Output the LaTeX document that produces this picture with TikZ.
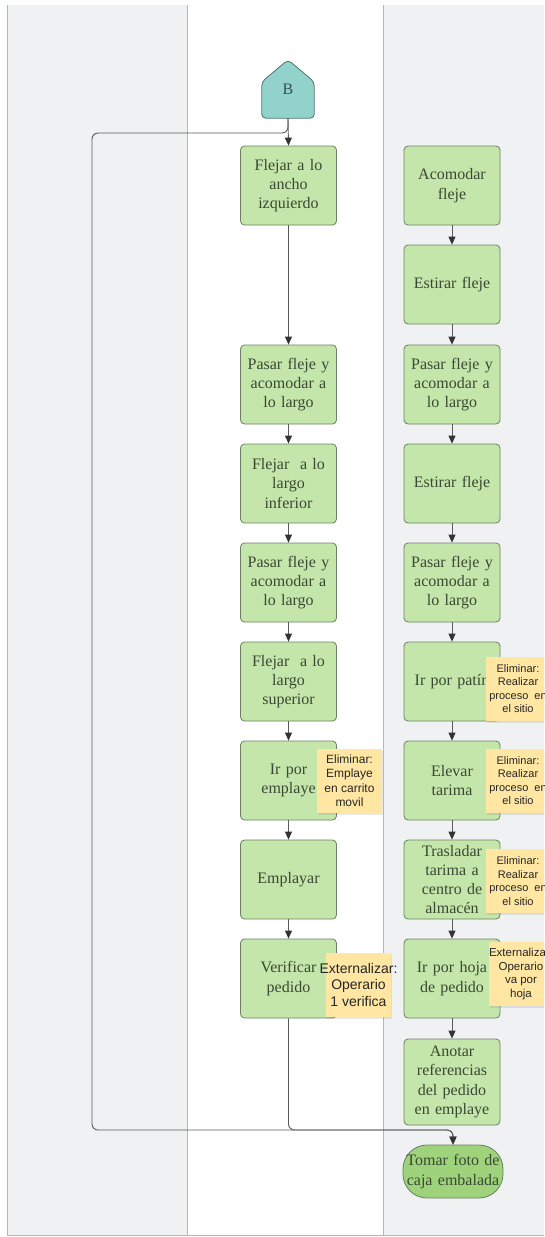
\documentclass[tikz,border=0pt]{standalone}
\usepackage{fontspec}
\setmainfont{Liberation Serif}
\newfontfamily\notafont{Liberation Sans}
\usetikzlibrary{arrows.meta, shadows}

\definecolor{carril}{RGB}{240,241,243}
\definecolor{bordecarril}{RGB}{180,182,186}
\definecolor{verdecaja}{RGB}{197,230,170}
\definecolor{bordecaja}{RGB}{108,128,100}
\definecolor{verdefin}{RGB}{158,211,124}
\definecolor{turquesa}{RGB}{145,211,202}
\definecolor{bordeturq}{RGB}{76,116,110}
\definecolor{amarillo}{RGB}{255,231,163}
\definecolor{textocaja}{RGB}{58,72,52}
\definecolor{linea}{RGB}{90,90,90}

\begin{document}
\begin{tikzpicture}[x=1pt, y=-1pt,
    caja/.style={draw=bordecaja, fill=verdecaja, rounded corners=4pt, line width=0.8pt,
        minimum width=96pt, minimum height=79pt, text width=94pt, inner sep=0pt,
        align=center, text=textocaja, font=\fontsize{16}{19.3}\selectfont},
    nota/.style={fill=amarillo, minimum width=65pt, minimum height=64pt, inner sep=0pt,
        align=center, text=black!85,
        drop shadow={opacity=0.18, shadow xshift=1pt, shadow yshift=-2pt}},
    flecha/.style={draw=linea, line width=0.9pt,
        -{Triangle[length=8pt, width=7pt, color=black!80]}}]

    % Marc i carrils
    \path[use as bounding box, clip] (0,0) rectangle (544,1237);
    \fill[carril] (7,5) rectangle (187,1235);
    \fill[carril] (383,5) rectangle (544,1235);
    \draw[bordecarril, line width=1pt] (7,5) -- (7,1235) -- (544,1235);
    \draw[bordecarril, line width=1pt] (187,5) -- (187,1235);
    \draw[bordecarril, line width=1pt] (383,5) -- (383,1235);

    % Conector de pagina B
    \node[minimum width=52pt, minimum height=58pt, inner sep=0pt] (B) at (288,89) {};
    \draw[fill=turquesa, draw=bordeturq, line width=0.8pt, rounded corners=4pt]
        (B.south west) -- (B.south east) -- ([yshift=-22pt]B.north east)
        -- (B.north) -- ([yshift=-22pt]B.north west) -- cycle;
    \node[text=bordeturq!70!black, font=\fontsize{16}{19}\selectfont] (Btxt) at (B.center) {B};

    % Columna central
    \foreach \n/\y/\t in {
        m1/185.5/{Flejar a lo\\ancho\\izquierdo},
        m2/384.5/{Pasar fleje y\\acomodar a\\lo largo},
        m3/483.5/{Flejar~ a lo\\largo\\inferior},
        m4/582.5/{Pasar fleje y\\acomodar a\\lo largo},
        m5/681.5/{Flejar~ a lo\\largo\\superior},
        m6/780.5/{Ir por\\emplaye},
        m7/879.5/{Emplayar},
        m8/978.5/{Verificar\\pedido}
    } {
        \node[caja] (\n) at (288.5,\y) {\t};
    }

    % Columna derecha
    \foreach \n/\y/\t in {
        r1/185.5/{Acomodar\\fleje},
        r2/284.5/{Estirar fleje},
        r3/384.5/{Pasar fleje y\\acomodar a\\lo largo},
        r4/483.5/{Estirar fleje},
        r5/582.5/{Pasar fleje y\\acomodar a\\lo largo},
        r6/681.5/{Ir por patín},
        r7/780.5/{Elevar\\tarima},
        r8/879.5/{Trasladar\\tarima a\\centro de\\almacén},
        r9/978.5/{Ir por hoja\\de pedido}
    } {
        \node[caja] (\n) at (452,\y) {\t};
    }
    \node[caja, minimum height=86pt] (r10) at (452,1082) {Anotar\\referencias\\del pedido\\en emplaye};
    \node[caja, fill=verdefin, minimum width=100pt, minimum height=53pt, rounded corners=24pt]
        (tomar) at (453,1171.5) {Tomar foto de\\caja embalada};

    % Flechas
    \draw[flecha] (B.south) -- (m1.north);
    \foreach \a/\b in {m1/m2, m2/m3, m3/m4, m4/m5, m5/m6, m6/m7, m7/m8,
        r1/r2, r2/r3, r3/r4, r4/r5, r5/r6, r6/r7, r7/r8, r8/r9, r9/r10} {
        \draw[flecha] (\a) -- (\b);
    }
    \coordinate (giro) at (92,133);
    \coordinate (union) at (453,1130);
    \draw[flecha, rounded corners=6pt] (B.south) |- (giro) |- (union) -- (tomar.north);
    \draw[flecha, rounded corners=6pt] (m8.south) |- (union) -- (tomar.north);

    % Notas adhesivas
    \node[nota, font=\notafont\fontsize{12}{14.5}\selectfont] (n1) at (349.5,780.5)
        {Eliminar:\\Emplaye\\en carrito\\movil};
    \foreach \n/\y in {n2/688.5, n3/780.5, n4/881} {
        \node[nota, font=\notafont\fontsize{11}{13.5}\selectfont] (\n) at (518,\y)
            {Eliminar:\\Realizar\\proceso~ en\\el sitio};
    }
    \node[nota] (n5) at (358.5,984.5) {};
    \node[align=center, inner sep=0pt, text=black!85, font=\notafont\fontsize{14}{16.5}\selectfont]
        (n5txt) at (n5.center) {Externalizar:\\Operario\\1 verifica};
    \node[nota, font=\notafont\fontsize{11.5}{13.5}\selectfont] (n6) at (521,974)
        {Externalizar:\\Operario\\va por\\hoja};

\end{tikzpicture}
\end{document}
